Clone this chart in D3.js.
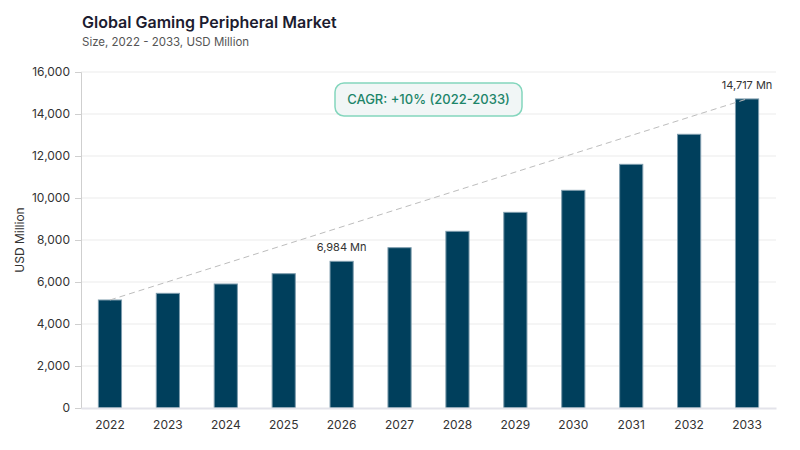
<!DOCTYPE html>
<html>
<head>
<meta charset="utf-8">
<script src="https://cdn.jsdelivr.net/npm/d3@7"></script>
<style>
  body { margin: 0; background: #fff; }
  svg { font-family: Inter, "DejaVu Sans", sans-serif; }
</style>
</head>
<body>
<svg id="chart" width="800" height="450"></svg>
<script>
// data
const years = ["2022", "2023", "2024", "2025", "2026", "2027", "2028", "2029", "2030", "2031", "2032", "2033"];
const sizes = [5143, 5460, 5905, 6395, 6984, 7633, 8413, 9317, 10365, 11603, 13033, 14717];
const yTicks = [0, 2000, 4000, 6000, 8000, 10000, 12000, 14000, 16000];
const labelled = ["2026", "2033"];

const svg = d3.select("#chart");
const margin = { left: 81, right: 24, top: 72, bottom: 42 };
const width = 800, height = 450;

const x = d3.scaleBand()
    .domain(years)
    .range([margin.left, width - margin.right])
    .paddingInner(0.6)
    .paddingOuter(0.3);

const y = d3.scaleLinear()
    .domain([0, 16000])
    .range([height - margin.bottom, margin.top]);

// Title
svg.append("text").attr("x", 82).attr("y", 28)
    .text("Global Gaming Peripheral Market")
    .style("font-size", "16px").style("font-weight", 600).style("fill", "#1c1c30");
svg.append("text").attr("x", 82).attr("y", 46)
    .text("Size, 2022 - 2033, USD Million")
    .style("font-size", "11.5px").style("fill", "#555");

// gridlines
svg.append("g")
    .selectAll("line")
    .data(yTicks.filter(d => d > 0))
    .enter().append("line")
    .attr("x1", margin.left).attr("x2", width - margin.right)
    .attr("y1", d => y(d)).attr("y2", d => y(d))
    .attr("stroke", "#ebebeb").attr("stroke-width", 1);

// Y axis
const yAxis = svg.append("g")
    .attr("transform", `translate(${margin.left},0)`)
    .call(d3.axisLeft(y).tickValues(yTicks).tickFormat(d3.format(",")).tickSize(6).tickPadding(5));
yAxis.select(".domain").attr("stroke", "#cfcfcf");
yAxis.selectAll(".tick line").attr("stroke", "#cfcfcf");
yAxis.selectAll("text").style("font-size", "12px").style("fill", "#333").style("font-family", "Inter, sans-serif");

svg.append("text")
    .attr("transform", `translate(24,${(margin.top + height - margin.bottom) / 2}) rotate(-90)`)
    .attr("text-anchor", "middle")
    .text("USD Million")
    .style("font-size", "12px").style("fill", "#333");

// bars
svg.append("g")
    .selectAll("rect")
    .data(years)
    .enter().append("rect")
    .attr("x", d => x(d))
    .attr("width", x.bandwidth())
    .attr("y", (d, i) => y(sizes[i]))
    .attr("height", (d, i) => y(0) - y(sizes[i]))
    .attr("fill", "#003f5c")
    .attr("stroke", "#7d9cad")
    .attr("stroke-width", 1);

// X axis
const xAxis = svg.append("g")
    .attr("transform", `translate(0,${y(0)})`)
    .call(d3.axisBottom(x).tickSize(0).tickPadding(12));
xAxis.select(".domain").attr("stroke", "#e3e3ea").attr("stroke-width", 2);
xAxis.selectAll("text").style("font-size", "12px").style("fill", "#333").style("font-family", "Inter, sans-serif");

// trend line between first and last bars
const first = 0, last = years.length - 1;
svg.append("line")
    .attr("x1", x(years[first]) + x.bandwidth() / 2).attr("y1", y(sizes[first]))
    .attr("x2", x(years[last]) + x.bandwidth() / 2).attr("y2", y(sizes[last]))
    .attr("stroke", "#bdbdbd").attr("stroke-width", 1)
    .attr("stroke-dasharray", "6,4");

// value labels
svg.append("g")
    .selectAll("text")
    .data(labelled)
    .enter().append("text")
    .attr("x", d => x(d) + x.bandwidth() / 2)
    .attr("y", d => y(sizes[years.indexOf(d)]) - 10)
    .attr("text-anchor", "middle")
    .text(d => d3.format(",")(sizes[years.indexOf(d)]) + " Mn")
    .style("font-size", "11px").style("fill", "#333");

// CAGR box
const cagr = svg.append("g").attr("transform", "translate(335,83)");
cagr.append("rect")
    .attr("width", 187).attr("height", 33).attr("rx", 9)
    .attr("fill", "#f1f6f6").attr("stroke", "#84d6bd").attr("stroke-width", 1.5);
cagr.append("text")
    .attr("x", 93.5).attr("y", 21)
    .attr("text-anchor", "middle")
    .text("CAGR: +10% (2022-2033)")
    .style("font-size", "13px").style("font-weight", 500).style("fill", "#1d8569");
</script>
</body>
</html>
